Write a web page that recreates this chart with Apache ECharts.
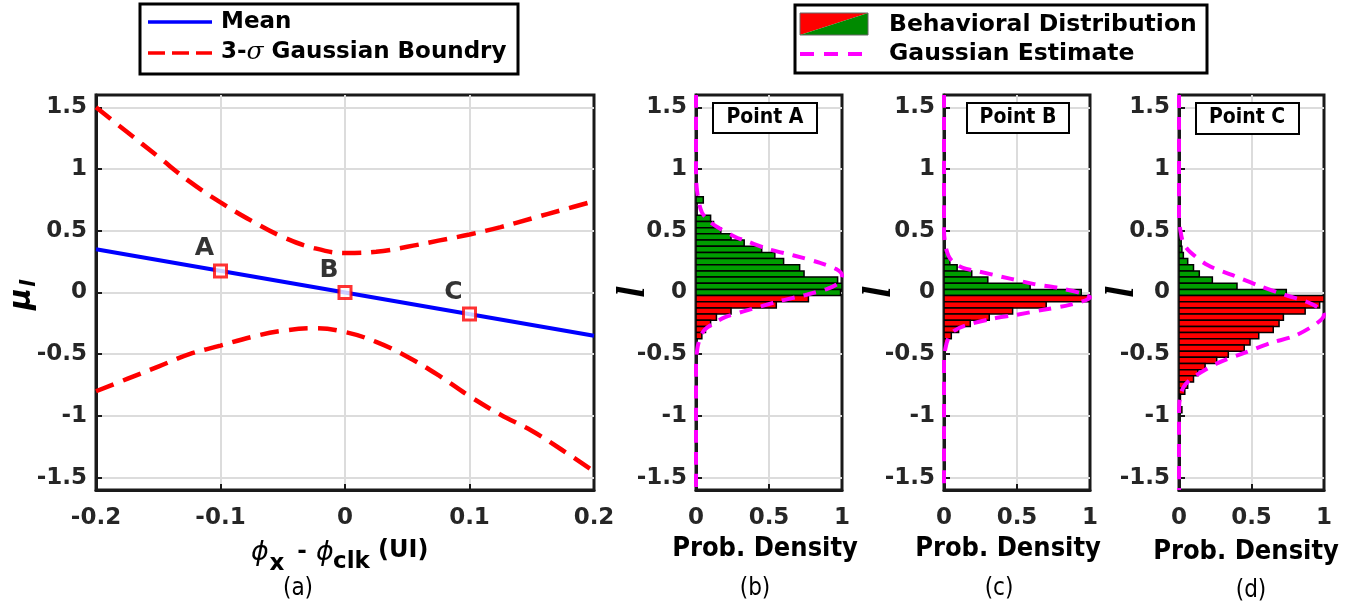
<!DOCTYPE html>
<html><head><meta charset="utf-8">
<script src="https://cdn.jsdelivr.net/npm/echarts@6/dist/echarts.min.js"></script>
<style>html,body{margin:0;padding:0;background:#fff}#c{width:1365px;height:608px}</style>
</head><body><div id="c"></div>
<script>
// ---------- data ----------
const yTicks = [-1.5, -1, -0.5, 0, 0.5, 1, 1.5];
// panel (a)
const meanX = [-0.2, 0.2];
const meanY = [0.35, -0.35];
const phase = [-0.2, -0.175, -0.15, -0.125, -0.1, -0.075, -0.05, -0.025, 0, 0.025, 0.05, 0.075, 0.1, 0.125, 0.15, 0.175, 0.2];
const upperBound = [1.50, 1.30, 1.10, 0.90, 0.73, 0.58, 0.45, 0.36, 0.32, 0.33, 0.37, 0.42, 0.47, 0.53, 0.60, 0.67, 0.74];
const lowerBound = [-0.80, -0.70, -0.60, -0.50, -0.43, -0.36, -0.31, -0.29, -0.32, -0.40, -0.52, -0.67, -0.84, -0.99, -1.12, -1.28, -1.45];
const pointNames = ['A', 'B', 'C'];
const pointX = [-0.1, 0, 0.1];
const pointY = [0.175, 0, -0.175];
// panels (b)(c)(d): histogram bin centres (l) and normalised densities
const BIN = 0.05;
const histBins = [0.75, 0.70, 0.65, 0.60, 0.55, 0.50, 0.45, 0.40, 0.35, 0.30, 0.25, 0.20, 0.15, 0.10, 0.05, 0.00,
  -0.05, -0.10, -0.15, -0.20, -0.25, -0.30, -0.35, -0.40, -0.45, -0.50, -0.55, -0.60, -0.65, -0.70, -0.75, -0.80, -0.85, -0.90, -0.95];
const densA = [0.05, 0, 0, 0.10, 0.12, 0.17, 0.24, 0.33, 0.45, 0.54, 0.60, 0.71, 0.74, 0.97, 1.00, 0.99,
  0.77, 0.55, 0.24, 0.14, 0.10, 0.065, 0.04, 0, 0, 0, 0, 0, 0, 0, 0, 0, 0, 0, 0];
const densB = [0, 0, 0, 0, 0, 0, 0, 0, 0, 0.025, 0.04, 0.09, 0.19, 0.30, 0.59, 0.94,
  1.00, 0.70, 0.47, 0.31, 0.18, 0.10, 0.05, 0.02, 0, 0, 0, 0, 0, 0, 0, 0, 0, 0, 0];
const densC = [0, 0, 0, 0, 0, 0, 0, 0.015, 0.02, 0.03, 0.06, 0.10, 0.14, 0.23, 0.40, 0.74,
  1.00, 0.97, 0.87, 0.72, 0.69, 0.65, 0.55, 0.49, 0.45, 0.34, 0.26, 0.18, 0.13, 0.10, 0.06, 0.04, 0.01, 0.005, 0.02];
// Gaussian estimates: [density, l]
const gaussA = [[0, 1.6], [0, 0.95], [0.01, 0.8], [0.04, 0.65], [0.1, 0.57], [0.16, 0.52], [0.27, 0.45], [0.36, 0.41], [0.5, 0.35],
  [0.67, 0.3], [0.85, 0.24], [0.96, 0.19], [1.0, 0.14], [0.98, 0.08], [0.9, 0.03], [0.75, -0.02], [0.57, -0.07], [0.45, -0.11],
  [0.32, -0.155], [0.2, -0.2], [0.12, -0.25], [0.06, -0.3], [0.03, -0.36], [0.01, -0.45], [0, -0.6], [0, -1.6]];
const gaussB = [[0, 1.6], [0, 0.5], [0.01, 0.38], [0.03, 0.3], [0.06, 0.25], [0.13, 0.2], [0.24, 0.17], [0.46, 0.11], [0.61, 0.07],
  [0.77, 0.04], [0.95, -0.01], [1.0, -0.04], [0.86, -0.1], [0.68, -0.14], [0.5, -0.18], [0.32, -0.215], [0.14, -0.27],
  [0.07, -0.31], [0.03, -0.37], [0.01, -0.45], [0, -0.55], [0, -1.6]];
const gaussC = [[0, 1.6], [0, 0.6], [0.01, 0.5], [0.03, 0.4], [0.075, 0.33], [0.2, 0.22], [0.37, 0.14], [0.54, 0.06], [0.73, -0.02],
  [0.88, -0.075], [0.97, -0.13], [1.0, -0.18], [0.95, -0.25], [0.8, -0.35], [0.63, -0.41], [0.45, -0.49], [0.27, -0.57],
  [0.12, -0.67], [0.04, -0.75], [0.007, -0.85], [0, -1.0], [0, -1.6]];

// ---------- styling ----------
const AXC = '#1a1a1a';
const GREEN = '#009e00', RED = '#ff0000', MAG = '#ff00ff';
const tickLabel = { fontFamily: 'DejaVu Sans', fontWeight: 'bold', fontSize: 23, color: '#262626' };

const chart = echarts.init(document.getElementById('c'));

const gridBoxes = [
  { left: 96, top: 95, width: 498, height: 395 },
  { left: 696, top: 95, width: 146, height: 395 },
  { left: 944, top: 95, width: 146, height: 395 },
  { left: 1179, top: 95, width: 145, height: 395 }
].map(g => Object.assign(g, { show: true, borderColor: AXC, borderWidth: 3, backgroundColor: 'transparent' }));

function mkX(i, min, max, interval) {
  return {
    type: 'value', gridIndex: i, min: min, max: max, interval: interval,
    axisLine: { show: true, onZero: false, lineStyle: { color: AXC, width: 3 } },
    axisTick: { show: true, inside: true, length: 6, lineStyle: { color: AXC, width: 2 } },
    axisLabel: Object.assign({ margin: 17 }, tickLabel),
    splitLine: { show: true, showMinLine: false, showMaxLine: false, lineStyle: { color: '#dcdcdc', width: 2 } }
  };
}
function mkY(i) {
  return {
    type: 'value', gridIndex: i, min: -1.6, max: 1.6,
    axisLine: { show: true, onZero: false, lineStyle: { color: AXC, width: 3 } },
    axisTick: { show: true, inside: true, length: 6, customValues: yTicks, lineStyle: { color: AXC, width: 2 } },
    axisLabel: Object.assign({ margin: 9, customValues: yTicks }, tickLabel),
    splitLine: { show: true, lineStyle: { color: '#dcdcdc', width: 2 } }
  };
}

function hist(i, dens) {
  return {
    type: 'custom', xAxisIndex: i, yAxisIndex: i, clip: true, z: 2,
    data: histBins.map((c, k) => [c - BIN / 2, c + BIN / 2, dens[k], c]).filter(d => d[2] > 0),
    encode: { x: 2, y: [0, 1] },
    renderItem: function (params, api) {
      const lo = api.value(0), hi = api.value(1), d = api.value(2), c = api.value(3);
      const p0 = api.coord([0, hi]), p1 = api.coord([d, lo]);
      return {
        type: 'rect',
        shape: { x: p0[0], y: p0[1], width: p1[0] - p0[0], height: p1[1] - p0[1] },
        style: { fill: c >= -1e-9 ? GREEN : RED, stroke: '#000', lineWidth: 1.5 }
      };
    }
  };
}
function gaussLine(i, pts) {
  return {
    type: 'line', xAxisIndex: i, yAxisIndex: i, data: pts, symbol: 'none', smooth: 0.3, clip: true, z: 4,
    lineStyle: { color: MAG, width: 4, type: [13, 9] }
  };
}

const series = [
  { type: 'line', xAxisIndex: 0, yAxisIndex: 0, data: meanX.map((x, i) => [x, meanY[i]]), symbol: 'none', z: 3,
    lineStyle: { color: '#0000ff', width: 4 } },
  { type: 'line', xAxisIndex: 0, yAxisIndex: 0, data: phase.map((x, i) => [x, upperBound[i]]), symbol: 'none', smooth: 0.4, z: 3,
    lineStyle: { color: RED, width: 4.5, type: [19, 10] } },
  { type: 'line', xAxisIndex: 0, yAxisIndex: 0, data: phase.map((x, i) => [x, lowerBound[i]]), symbol: 'none', smooth: 0.4, z: 3,
    lineStyle: { color: RED, width: 4.5, type: [19, 10] } },
  { type: 'scatter', xAxisIndex: 0, yAxisIndex: 0, z: 5,
    data: pointNames.map((n, i) => ({ name: n, value: [pointX[i], pointY[i]] })),
    symbol: 'rect', symbolSize: 12,
    itemStyle: { color: '#fff', borderColor: RED, borderWidth: 3 },
    label: { show: true, position: 'inside', offset: [-16, -22], formatter: '{b}',
      fontFamily: 'DejaVu Sans', fontWeight: 'bold', fontSize: 25, color: '#000', textBorderWidth: 0 } },
  hist(1, densA), gaussLine(1, gaussA),
  hist(2, densB), gaussLine(2, gaussB),
  hist(3, densC), gaussLine(3, gaussC)
];

function txt(text, x, y, font, align, valign) {
  return { type: 'text', z: 10, style: { text: text, x: x, y: y, font: font, fill: '#000',
    textAlign: align || 'left', textVerticalAlign: valign || 'middle' } };
}
function rtxt(text, x, y, font) {
  return { type: 'group', x: x, y: y, rotation: Math.PI / 2, children: [
    { type: 'text', z: 10, style: { text: text, x: 0, y: 0, font: font, fill: '#000', textAlign: 'center', textVerticalAlign: 'middle' } }
  ] };
}
const LEG = 'bold 23px "DejaVu Sans"';
const COND = '"DejaVu Sans Condensed"';

const graphics = [
  // legend (a)
  { type: 'rect', z: 10, shape: { x: 140, y: 4, width: 378, height: 70 }, style: { fill: '#fff', stroke: '#000', lineWidth: 3 } },
  { type: 'line', z: 11, shape: { x1: 148, y1: 22, x2: 212, y2: 22 }, style: { stroke: '#0000ff', lineWidth: 3.5 } },
  txt('Mean', 221, 22, LEG),
  { type: 'line', z: 11, shape: { x1: 148, y1: 53, x2: 212, y2: 53 }, style: { stroke: RED, lineWidth: 3.5, lineDash: [17, 7] } },
  { type: 'text', z: 11, style: { x: 221, y: 52, text: '{n|3-}{s|σ}{n| Gaussian Boundry}', textVerticalAlign: 'middle',
    rich: { n: { font: LEG, fill: '#000' }, s: { font: 'italic 25px "DejaVu Serif"', fill: '#000' } } } },
  // legend (b-d)
  { type: 'rect', z: 10, shape: { x: 795, y: 5, width: 412, height: 68 }, style: { fill: '#fff', stroke: '#000', lineWidth: 3 } },
  { type: 'polygon', z: 11, shape: { points: [[800, 13], [868, 13], [800, 35]] }, style: { fill: RED } },
  { type: 'polygon', z: 11, shape: { points: [[868, 13], [868, 35], [800, 35]] }, style: { fill: '#008a00' } },
  { type: 'rect', z: 12, shape: { x: 800, y: 13, width: 68, height: 22 }, style: { fill: 'none', stroke: '#666', lineWidth: 1 } },
  txt('Behavioral Distribution', 889, 25, 'bold 23.5px "DejaVu Sans"'),
  { type: 'line', z: 11, shape: { x1: 800, y1: 54, x2: 866, y2: 54 }, style: { stroke: MAG, lineWidth: 4, lineDash: [14, 10] } },
  txt('Gaussian Estimate', 889, 54, 'bold 23.5px "DejaVu Sans"'),
  // point boxes
  { type: 'rect', z: 10, shape: { x: 713, y: 103, width: 104, height: 30 }, style: { fill: '#fff', stroke: '#000', lineWidth: 2 } },
  txt('Point A', 765, 118, 'bold 21px ' + COND, 'center'),
  { type: 'rect', z: 10, shape: { x: 967, y: 103, width: 102, height: 30 }, style: { fill: '#fff', stroke: '#000', lineWidth: 2 } },
  txt('Point B', 1018, 118, 'bold 21px ' + COND, 'center'),
  { type: 'rect', z: 10, shape: { x: 1196, y: 103, width: 103, height: 31 }, style: { fill: '#fff', stroke: '#000', lineWidth: 2 } },
  txt('Point C', 1247, 118, 'bold 21px ' + COND, 'center'),
  // axis name panel a
  txt('ϕ', 260, 553, 'italic 27px "DejaVu Sans"', 'center'),
  txt('x', 277, 564, 'bold 23px "DejaVu Sans"', 'center'),
  txt('-', 302, 552, 'bold 23px "DejaVu Sans"', 'center'),
  txt('ϕ', 325, 553, 'italic 27px "DejaVu Sans"', 'center'),
  txt('clk', 333, 562, 'bold 23px "DejaVu Sans"', 'left'),
  txt('(UI)', 378, 551, 'bold 24px "DejaVu Sans"', 'left'),
  { type: 'group', x: 22, y: 293, rotation: Math.PI / 2, children: [
    txt('μ', 5, 0, 'italic bold 30px "DejaVu Sans"', 'right'),
    txt('l', 6, 8, 'italic bold 21px "DejaVu Sans"', 'left')
  ] },
  // l labels
  rtxt('l', 634, 292, 'italic bold 40px "Liberation Serif"'),
  rtxt('l', 880, 292, 'italic bold 40px "Liberation Serif"'),
  rtxt('l', 1123, 292, 'italic bold 40px "Liberation Serif"'),
  // x names panels b-d
  txt('Prob. Density', 765, 549, 'bold 27px ' + COND, 'center'),
  txt('Prob. Density', 1008, 549, 'bold 27px ' + COND, 'center'),
  txt('Prob. Density', 1246, 552, 'bold 27px ' + COND, 'center'),
  // panel labels
  txt('(a)', 298, 589, '24px ' + COND, 'center'),
  txt('(b)', 755, 589, '24px ' + COND, 'center'),
  txt('(c)', 999, 589, '24px ' + COND, 'center'),
  txt('(d)', 1251, 591, '24px ' + COND, 'center')
];

chart.setOption({
  animation: false,
  backgroundColor: '#fff',
  grid: gridBoxes,
  xAxis: [mkX(0, -0.2, 0.2, 0.1), mkX(1, 0, 1, 0.5), mkX(2, 0, 1, 0.5), mkX(3, 0, 1, 0.5)],
  yAxis: [mkY(0), mkY(1), mkY(2), mkY(3)],
  series: series,
  graphic: graphics
});
</script>
</body></html>
